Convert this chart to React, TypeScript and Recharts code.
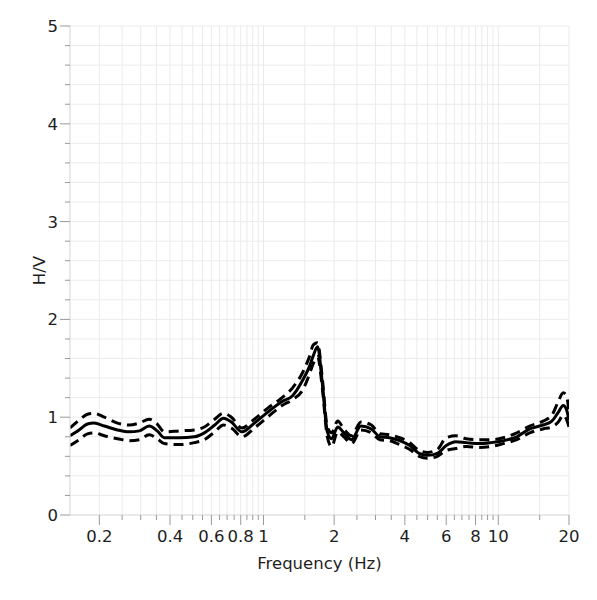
import React from "react";
import { LineChart, Line, XAxis, YAxis, CartesianGrid } from "recharts";

const freq = [0.15, 0.164, 0.178, 0.19, 0.21, 0.239, 0.268, 0.296, 0.326, 0.353, 0.378, 0.438, 0.508, 0.56, 0.62, 0.676, 0.73, 0.81, 0.915, 1.04, 1.2, 1.33, 1.47, 1.57, 1.63, 1.7, 1.78, 1.87, 1.95, 2.07, 2.2, 2.37, 2.6, 2.88, 3.13, 3.44, 3.8, 4.2, 4.6, 5.0, 5.5, 6.0, 6.6, 7.3, 8.3, 9.3, 10.5, 12, 13.6, 15.5, 16.9, 18, 18.9, 19.5, 20];
const hvMean = [0.81, 0.87, 0.93, 0.94, 0.91, 0.87, 0.85, 0.86, 0.91, 0.86, 0.79, 0.79, 0.8, 0.84, 0.92, 0.99, 0.95, 0.85, 0.94, 1.05, 1.16, 1.22, 1.38, 1.52, 1.63, 1.72, 1.35, 0.85, 0.78, 0.9, 0.84, 0.77, 0.91, 0.88, 0.8, 0.79, 0.76, 0.71, 0.63, 0.61, 0.63, 0.71, 0.75, 0.74, 0.73, 0.74, 0.76, 0.8, 0.88, 0.92, 0.96, 1.05, 1.12, 1.08, 0.97];
const hvLower = [0.71, 0.77, 0.83, 0.84, 0.81, 0.78, 0.76, 0.77, 0.82, 0.78, 0.73, 0.72, 0.74, 0.77, 0.85, 0.92, 0.89, 0.8, 0.89, 1.0, 1.12, 1.18, 1.28, 1.44, 1.55, 1.62, 1.3, 0.8, 0.7, 0.85, 0.8, 0.73, 0.87, 0.84, 0.77, 0.76, 0.72, 0.67, 0.6, 0.58, 0.6, 0.66, 0.68, 0.7, 0.69, 0.7, 0.73, 0.77, 0.84, 0.88, 0.9, 0.95, 1.02, 0.98, 0.9];
const hvUpper = [0.89, 0.97, 1.03, 1.04, 1.0, 0.94, 0.92, 0.94, 0.98, 0.93, 0.85, 0.86, 0.87, 0.9, 0.98, 1.04, 1.0, 0.89, 0.98, 1.09, 1.2, 1.3, 1.46, 1.62, 1.74, 1.76, 1.4, 0.9, 0.84, 0.96, 0.88, 0.81, 0.95, 0.92, 0.83, 0.82, 0.79, 0.74, 0.66, 0.64, 0.67, 0.79, 0.81, 0.78, 0.77, 0.77, 0.79, 0.84, 0.91, 0.96, 1.02, 1.16, 1.25, 1.22, 1.05];

const xTicks = [0.2, 0.25, 0.3, 0.35, 0.4, 0.45, 0.5, 0.55, 0.6, 0.65, 0.7, 0.75, 0.8, 0.85, 0.9, 0.95, 1, 1.5, 2, 2.5, 3, 3.5, 4, 4.5, 5, 5.5, 6, 6.5, 7, 7.5, 8, 8.5, 9, 9.5, 10, 15, 20];
const xLabels = [0.2, 0.4, 0.6, 0.8, 1, 2, 4, 6, 8, 10, 20];
const yTicks = [0, 0.2, 0.4, 0.6, 0.8, 1, 1.2, 1.4, 1.6, 1.8, 2, 2.2, 2.4, 2.6, 2.8, 3, 3.2, 3.4, 3.6, 3.8, 4, 4.2, 4.4, 4.6, 4.8, 5];
const yLabels = [0, 1, 2, 3, 4, 5];

const data = freq.map((f, i) => ({ f, mean: hvMean[i], lo: hvLower[i], up: hvUpper[i] }));

const FONT = "'DejaVu Sans', Verdana, sans-serif";
const FS = 16.5;

const XTick = (props: any) => {
  const { x, y, payload } = props;
  const v = payload.value;
  const major = xLabels.some((l) => Math.abs(l - v) < 1e-9);
  return (
    <g>
      <line x1={x} x2={x} y1={y} y2={y + (major ? 10 : 5)} stroke="#999" strokeWidth={1} />
      {major && (
        <text x={x} y={y + 27} textAnchor="middle" fontSize={FS} fill="#1e1e1e" fontFamily={FONT}>
          {v}
        </text>
      )}
    </g>
  );
};

const YTick = (props: any) => {
  const { x, y, payload } = props;
  const v = payload.value;
  const major = yLabels.some((l) => Math.abs(l - v) < 1e-9);
  return (
    <g>
      <line x1={x} x2={x - (major ? 10 : 5)} y1={y} y2={y} stroke="#999" strokeWidth={1} />
      {major && (
        <text x={x - 12} y={y + 6} textAnchor="end" fontSize={FS} fill="#1e1e1e" fontFamily={FONT}>
          {v}
        </text>
      )}
    </g>
  );
};

export default function App() {
  return (
    <div style={{ fontFamily: FONT, width: 580, height: 584 }}>
      <LineChart width={580} height={584} data={data} margin={{ top: 18, right: 19, bottom: 0, left: 0 }}>
        <CartesianGrid stroke="#ebebeb" strokeWidth={1} />
        <XAxis
          dataKey="f"
          type="number"
          scale="log"
          domain={[0.15, 20]}
          allowDataOverflow
          ticks={xTicks}
          interval={0}
          tickSize={0}
          tickMargin={0}
          tickLine={false}
          tick={<XTick />}
          height={77}
          axisLine={{ stroke: "#dddddd" }}
          label={{ value: "Frequency (Hz)", position: "insideBottom", offset: 23, fontSize: FS, fill: "#1e1e1e", fontFamily: FONT }}
        />
        <YAxis
          type="number"
          domain={[0, 5]}
          ticks={yTicks}
          interval={0}
          tickSize={0}
          tickMargin={0}
          tickLine={false}
          tick={<YTick />}
          width={62}
          axisLine={{ stroke: "#dddddd" }}
          label={{ value: "H/V", angle: -90, position: "center", fontSize: FS, fill: "#1e1e1e", fontFamily: FONT }}
        />
        <Line type="monotone" dataKey="mean" stroke="#000" strokeWidth={3} dot={false} activeDot={false} isAnimationActive={false} />
        <Line type="monotone" dataKey="lo" stroke="#000" strokeWidth={3} strokeDasharray="10 6" dot={false} activeDot={false} isAnimationActive={false} />
        <Line type="monotone" dataKey="up" stroke="#000" strokeWidth={3} strokeDasharray="10 6" dot={false} activeDot={false} isAnimationActive={false} />
      </LineChart>
    </div>
  );
}
